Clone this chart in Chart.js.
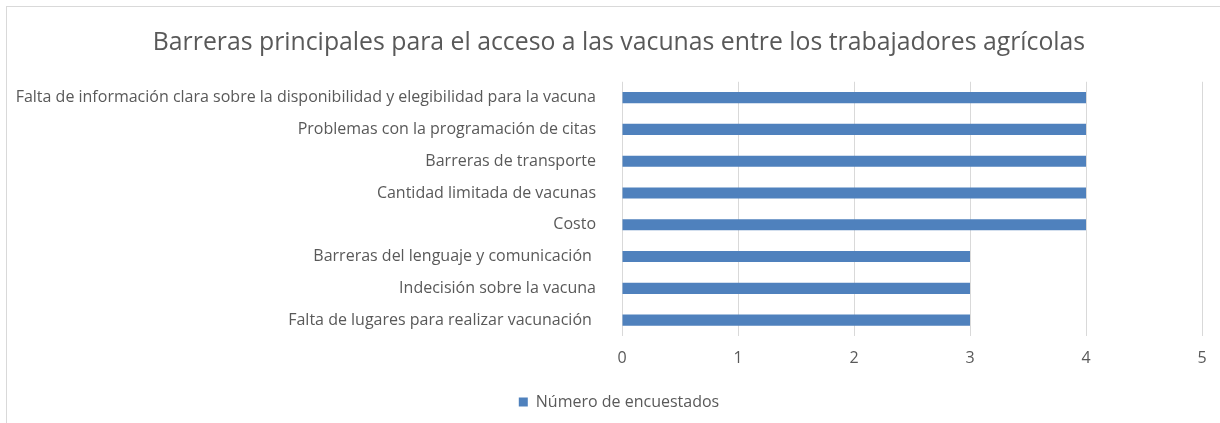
<!DOCTYPE html>
<html>
<head>
<meta charset="utf-8">
<script src="https://cdn.jsdelivr.net/npm/chart.js@4/dist/chart.umd.min.js"></script>
<style>
  html, body { margin: 0; padding: 0; background: #fff; }
  #wrap { position: relative; width: 1220px; height: 423px; overflow: hidden; }
  #frame { position: absolute; left: 6px; top: 6px; width: 1230px; height: 440px; border: 1px solid #d9d9d9; box-sizing: border-box; }
  #chart { position: absolute; left: 0; top: 0; }
</style>
</head>
<body>
<div id="wrap">
  <div id="frame"></div>
  <canvas id="chart" width="1220" height="423"></canvas>
</div>
<script>
// data
const categories = [
    'Falta de información clara sobre la disponibilidad y elegibilidad para la vacuna',
    'Problemas con la programación de citas',
    'Barreras de transporte',
    'Cantidad limitada de vacunas',
    'Costo',
    'Barreras del lenguaje y comunicación ',
    'Indecisión sobre la vacuna',
    'Falta de lugares para realizar vacunación '
];
const respondents = [4, 4, 4, 4, 4, 3, 3, 3];
const seriesName = 'Número de encuestados';
const chartTitle = 'Barreras principales para el acceso a las vacunas entre los trabajadores agrícolas';

const textColor = '#595959';
const barColor = '#4f81bd';
const gridColor = '#d9d9d9';
const fontFamily = '"Open Sans", "Noto Sans", sans-serif';

// left padding only centres title/legend like the original frame;
// let the long category labels use the space on the left
const unclipLabels = {
    id: 'unclipLabels',
    afterLayout(chart) {
        chart.scales.y.left = 0;
    }
};

document.addEventListener('DOMContentLoaded', () => {
    const ctx = document.getElementById('chart').getContext('2d');
    new Chart(ctx, {
        type: 'bar',
        data: {
            labels: categories,
            datasets: [{
                label: seriesName,
                data: respondents,
                backgroundColor: barColor,
                borderWidth: 0,
                barPercentage: 0.7,
                categoryPercentage: 0.5
            }]
        },
        plugins: [unclipLabels],
        options: {
            indexAxis: 'y',
            responsive: false,
            animation: false,
            layout: { padding: { left: 36, right: 18, top: 0, bottom: 3 } },
            plugins: {
                title: {
                    display: true,
                    text: chartTitle,
                    color: textColor,
                    font: { family: fontFamily, size: 24.8, weight: 'normal' },
                    padding: { top: 28, bottom: 24 }
                },
                legend: {
                    position: 'bottom',
                    labels: {
                        color: textColor,
                        font: { family: fontFamily, size: 16 },
                        boxWidth: 9,
                        boxHeight: 9,
                        padding: 10
                    }
                },
                tooltip: { enabled: false }
            },
            scales: {
                x: {
                    min: 0,
                    max: 5,
                    ticks: {
                        stepSize: 1,
                        color: textColor,
                        font: { family: fontFamily, size: 16 },
                        padding: 13
                    },
                    grid: { color: gridColor, lineWidth: 1, drawTicks: false },
                    border: { display: false },
                    afterFit: (scale) => { scale.height = 48; }
                },
                y: {
                    ticks: {
                        color: textColor,
                        font: { family: fontFamily, size: 16 },
                        padding: 18
                    },
                    grid: { display: false },
                    border: { display: false },
                    afterFit: (scale) => { scale.width = 586; }
                }
            }
        }
    });
});
</script>
</body>
</html>
